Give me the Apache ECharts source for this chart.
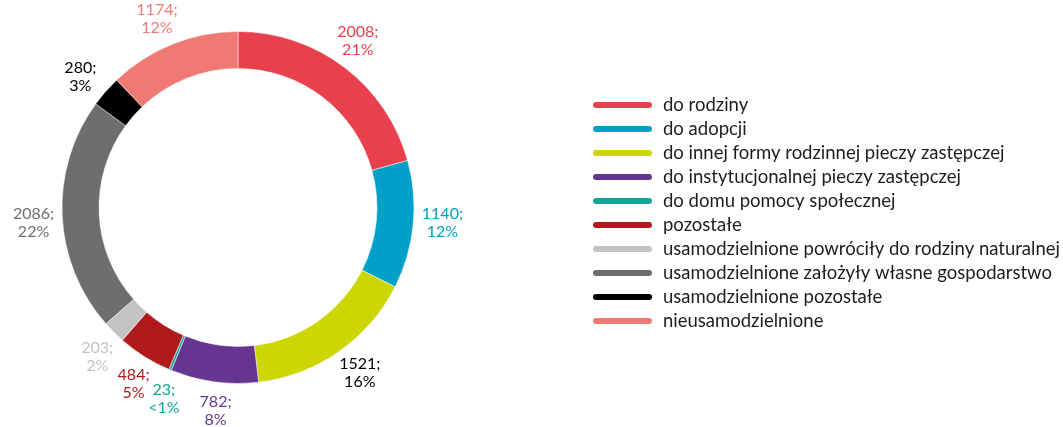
<!DOCTYPE html>
<html>
<head>
<meta charset="utf-8">
<script src="https://cdn.jsdelivr.net/npm/echarts@6/dist/echarts.min.js"></script>
<style>
  html, body { margin: 0; padding: 0; background: #fff; }
  #chart { width: 1063px; height: 427px; }
</style>
</head>
<body>
<div id="chart"></div>
<script>
var categories = [
  'do rodziny',
  'do adopcji',
  'do innej formy rodzinnej pieczy zastępczej',
  'do instytucjonalnej pieczy zastępczej',
  'do domu pomocy społecznej',
  'pozostałe',
  'usamodzielnione powróciły do rodziny naturalnej',
  'usamodzielnione założyły własne gospodarstwo',
  'usamodzielnione pozostałe',
  'nieusamodzielnione'
];
var values = [2008, 1140, 1521, 782, 23, 484, 203, 2086, 280, 1174];
var colors = ['#e8404c', '#00a0c8', '#ccd600', '#653591', '#16a699',
              '#b01a1a', '#c3c3c3', '#6e6e6e', '#000000', '#f07a73'];
var labelColors = ['#e8404c', '#00a0c8', '#000000', '#653591', '#16a699',
                   '#b01a1a', '#c3c3c3', '#6e6e6e', '#000000', '#f07a73'];

var chart = echarts.init(document.getElementById('chart'));

// pierścień
var ringData = categories.map(function (name, i) {
  return { name: name, value: values[i], itemStyle: { color: colors[i] } };
});
// niewidoczny pierścień zewnętrzny tylko na etykiety
var labelData = categories.map(function (name, i) {
  return { name: name, value: values[i], label: { color: labelColors[i] } };
});

var option = {
  backgroundColor: '#fff',
  animation: false,
  legend: {
    orient: 'vertical',
    left: 591,
    top: 93,
    padding: 0,
    itemGap: 0,
    itemWidth: 61,
    itemHeight: 8,
    icon: 'path://M4,0 H57 A4,4 0 0 1 57,8 H4 A4,4 0 0 1 4,0 Z',
    data: categories,
    textStyle: {
      fontFamily: 'Lato',
      fontSize: 18.5,
      lineHeight: 24,
      color: '#1d1d1b',
      padding: [0, 0, 0, 5]
    }
  },
  series: [
    {
      name: 'ring',
      type: 'pie',
      center: [238, 207.5],
      radius: [139, 176],
      startAngle: 90,
      clockwise: true,
      silent: true,
      label: { show: false },
      labelLine: { show: false },
      itemStyle: { borderColor: '#fff', borderWidth: 0.5 },
      data: ringData
    },
    {
      name: 'labels',
      type: 'pie',
      center: [238, 207.5],
      radius: [170, 234],
      startAngle: 91.5,
      clockwise: true,
      silent: true,
      legendHoverLink: false,
      avoidLabelOverlap: false,
      minShowLabelAngle: 0,
      labelLayout: { hideOverlap: false },
      itemStyle: { color: 'transparent' },
      label: {
        show: true,
        position: 'inside',
        fontFamily: 'Lato',
        fontSize: 16,
        lineHeight: 18,
        formatter: function (p) {
          var pct = p.percent < 1 ? '<1' : Math.round(p.percent);
          return p.value + ';\n' + pct + '%';
        }
      },
      labelLine: { show: false },
      data: labelData
    }
  ]
};
chart.setOption(option);
</script>
</body>
</html>
